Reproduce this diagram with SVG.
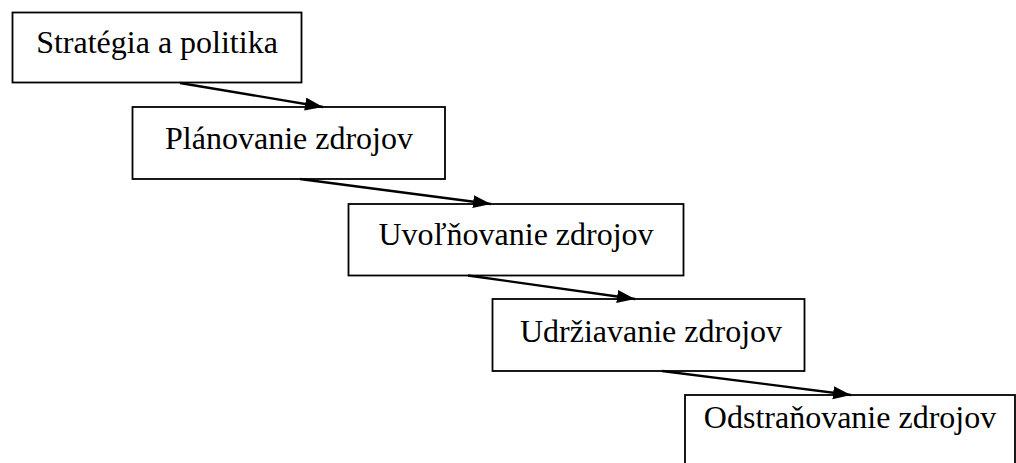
<svg xmlns="http://www.w3.org/2000/svg" width="1016" height="463" viewBox="0 0 1016 463">
<style>
.box{fill:#fff;stroke:#000;stroke-width:1.8}
.lbl{font-family:"Liberation Serif","Times New Roman",serif;font-size:32px;fill:#000;text-anchor:middle}
.conn{stroke:#000;stroke-width:2.3;fill:none}
</style>
<defs>
<marker id="arr" markerUnits="userSpaceOnUse" markerWidth="20" markerHeight="14" refX="18" refY="6.5" orient="auto">
<path d="M0,0 L18,6.5 L0,13 z" fill="#000"/>
</marker>
</defs>
<rect width="1016" height="463" fill="#fff"/>
<g id="n1"><rect class="box" x="12.5" y="12.5" width="289" height="70"/><text class="lbl" x="157" y="53">Stratégia a politika</text></g>
<g id="n2"><rect class="box" x="132.5" y="107" width="312.5" height="72"/><text class="lbl" x="289" y="149">Plánovanie zdrojov</text></g>
<g id="n3"><rect class="box" x="348.5" y="204" width="335" height="71.5"/><text class="lbl" x="516" y="245">Uvoľňovanie zdrojov</text></g>
<g id="n4"><rect class="box" x="492.5" y="299" width="312" height="72"/><text class="lbl" x="651" y="341.5">Udržiavanie zdrojov</text></g>
<g id="n5"><rect class="box" x="685" y="395" width="330" height="80"/><text class="lbl" x="850" y="427.5">Odstraňovanie zdrojov</text></g>
<g id="connectors">
<line class="conn" x1="180" y1="83" x2="323" y2="107" marker-end="url(#arr)"/>
<line class="conn" x1="300" y1="179" x2="491" y2="204" marker-end="url(#arr)"/>
<line class="conn" x1="468" y1="275.5" x2="635" y2="299" marker-end="url(#arr)"/>
<line class="conn" x1="662" y1="371" x2="851" y2="395" marker-end="url(#arr)"/>
</g>
</svg>
